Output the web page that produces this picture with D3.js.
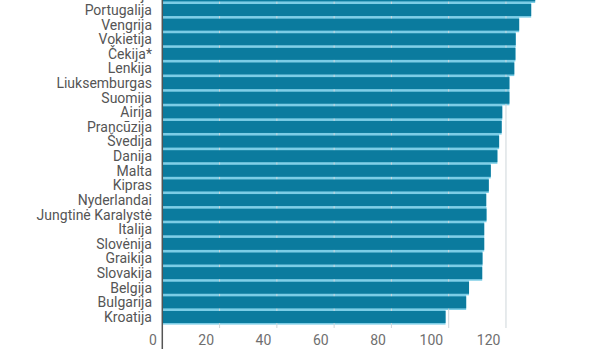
<!DOCTYPE html>
<html>
<head>
<meta charset="utf-8">
<script src="https://cdn.jsdelivr.net/npm/d3@7/dist/d3.min.js"></script>
<style>
  html, body { margin: 0; padding: 0; background: #fff; }
  svg { display: block; font-family: Roboto, "Noto Sans", sans-serif; }
</style>
</head>
<body>
<svg id="chart" width="600" height="360"></svg>
<script>
const categories = ["Rumunija", "Portugalija", "Vengrija", "Vokietija", "Čekija*", "Lenkija",
  "Liuksemburgas", "Suomija", "Airija", "Prancūzija", "Švedija", "Danija", "Malta", "Kipras",
  "Nyderlandai", "Jungtinė Karalystė", "Italija", "Slovėnija", "Graikija", "Slovakija",
  "Belgija", "Bulgarija", "Kroatija"];
const values = [130.2, 128.8, 124.6, 123.4, 123.3, 122.9, 121.2, 121.2, 118.7, 118.5, 117.6,
  117.0, 114.7, 114.0, 113.1, 113.2, 112.4, 112.4, 111.8, 111.7, 107.1, 106.1, 98.9];
const tickValues = [0, 20, 40, 60, 80, 100, 120];

const data = categories.map((c, i) => ({ name: c, value: values[i] }));
const svg = d3.select("#chart");

const x = d3.scaleLinear().domain([0, 100]).range([162.3, 448.7]);
const y = d3.scaleBand().domain(categories).range([-11.9, 324.3])
  .paddingInner(0.18).paddingOuter(0.09);

// light-blue separators behind bars
svg.append("g").selectAll("rect").data(data).join("rect")
  .attr("x", x(0))
  .attr("y", d => y(d.name) - 1.6)
  .attr("width", d => x(d.value) - x(0))
  .attr("height", y.bandwidth() + 3.2)
  .attr("fill", "#7ccde6");

// gridlines
svg.append("g").selectAll("line").data(tickValues.filter(t => t > 0)).join("line")
  .attr("x1", d => x(d)).attr("x2", d => x(d))
  .attr("y1", 0).attr("y2", 328)
  .attr("stroke", "#cfd6da").attr("stroke-width", 1);

// bars
svg.append("g").selectAll("rect").data(data).join("rect")
  .attr("x", x(0))
  .attr("y", d => y(d.name))
  .attr("width", d => x(d.value) - x(0))
  .attr("height", y.bandwidth())
  .attr("fill", "#0b7b9e");

// category labels
svg.append("g").selectAll("text").data(data).join("text")
  .attr("x", 152)
  .attr("y", d => y(d.name) + y.bandwidth() / 2)
  .attr("dy", "0.35em")
  .attr("text-anchor", "end")
  .attr("font-size", 14)
  .attr("fill", "#555")
  .text(d => d.name);

// tick labels
svg.append("g").selectAll("text").data(tickValues).join("text")
  .attr("x", d => x(d) - 5.5)
  .attr("y", 345)
  .attr("text-anchor", "end")
  .attr("font-size", 14)
  .attr("fill", "#6f6f6f")
  .text(d => d);

// y axis line
svg.append("line")
  .attr("x1", x(0)).attr("x2", x(0))
  .attr("y1", 0).attr("y2", 349)
  .attr("stroke", "#555").attr("stroke-width", 1.5);
</script>
</body>
</html>
